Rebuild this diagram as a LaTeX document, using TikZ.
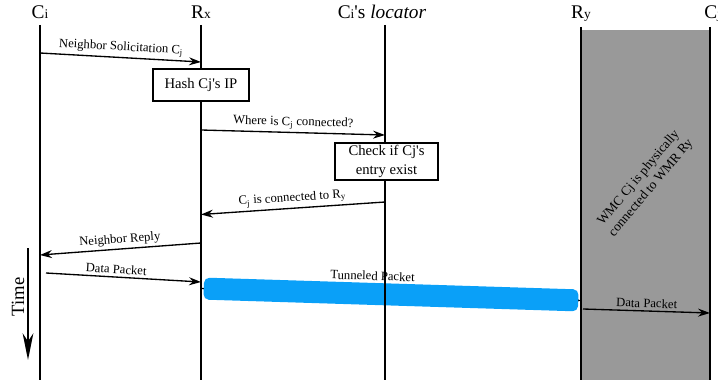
\documentclass[tikz,border=0pt]{standalone}
\usepackage{fontspec}
\setmainfont{Liberation Serif}
\usetikzlibrary{positioning,arrows,arrows.meta}
\newcommand{\hsub}[1]{{\fontsize{10}{10}\selectfont #1}}
\newcommand{\apos}{\textquotesingle}
\definecolor{tunnelblue}{RGB}{10,160,248}
\definecolor{wmcgray}{RGB}{153,153,153}
\tikzset{
	head/.style={font=\fontsize{14.5}{16}\selectfont, inner sep=0pt, anchor=base},
	msg/.style={font=\fontsize{9.5}{11}\selectfont, above, sloped, inner sep=2pt},
	msgarrow/.style={line width=1pt, -{Stealth[length=9pt,width=6pt,inset=3pt]}},
	procbox/.style={draw, line width=1.5pt, fill=white, inner sep=0pt,
		font=\fontsize{11}{14}\selectfont, align=center},
	life/.style={line width=0.8pt},
	tunnelbar/.style={fill=tunnelblue, rounded corners=4pt, inner sep=0pt,
		minimum width=281pt, minimum height=16.5pt},
}

\begin{document}
\begin{tikzpicture}[x=0.75pt,y=-0.75pt]
			\useasboundingbox (0,0) rectangle (718,385);
			\fill[wmcgray] (581,30) rectangle (710,380);
			% tunnel under the lifelines
			\coordinate (tun-s) at (201,288.5); \coordinate (tun-e) at (581,300.5);
			\draw[msgarrow] (tun-s) -- (tun-e);
			\path (tun-s) -- node [sloped, tunnelbar] (tunnel) {} node [msg, pos=0.45, above=8pt] {Tunneled Packet} (tun-e);
			% lifelines
			\node[head] (ci) at (40,18.5) {C\hsub{i}};
			\node[head] (rx) at (201,18.5) {R\hsub{x}};
			\node[head] (loc) at (382,18.5) {C\hsub{i}\apos s \textit{locator}};
			\node[head] (ry) at (581,18.5) {R\hsub{y}};
			\node[head, anchor=base west] (cj) at (704,18.5) {C\hsub{j}};
			\coordinate (ci-top) at (40,25);   \coordinate (ci-bot) at (40,380);
			\coordinate (rx-top) at (201,25);  \coordinate (rx-bot) at (201,380);
			\coordinate (loc-top) at (385,25); \coordinate (loc-bot) at (385,380);
			\coordinate (ry-top) at (581,27);  \coordinate (ry-bot) at (581,380);
			\coordinate (cj-top) at (710,27);  \coordinate (cj-bot) at (710,380);
			\foreach \l in {ci,rx,loc,ry,cj}
				\draw[life] (\l-top) -- (\l-bot);
			% boxes
			\node[procbox, minimum width=72pt, minimum height=24pt] (hash) at (201,85) {Hash Cj\apos s IP};
			\node[procbox, minimum width=77pt, minimum height=28pt] (check) at (386.5,161.5) {Check if Cj\apos s\\entry exist};
			% messages
			\coordinate (m1s) at (40,53);   \coordinate (m1e) at (201,62);
			\coordinate (m2s) at (201,130); \coordinate (m2e) at (385,135);
			\coordinate (m3s) at (385,202); \coordinate (m3e) at (201,214.5);
			\coordinate (m4s) at (201,243); \coordinate (m4e) at (40,255);
			\coordinate (m5s) at (46,273);  \coordinate (m5e) at (201,282);
			\coordinate (m6s) at (583,309); \coordinate (m6e) at (710,313);
			\path[msgarrow]
			(m1s) edge node [msg] {Neighbor Solicitation C\textsubscript{j}} (m1e)
			(m2s) edge node [msg] {Where is C\textsubscript{j} connected?} (m2e)
			(m3s) edge node [msg] {C\textsubscript{j} is connected to R\textsubscript{y}} (m3e)
			(m4s) edge node [msg] {Neighbor Reply} (m4e)
			(m5s) edge node [msg, pos=0.45] {Data Packet} (m5e)
			(m6s) edge node [msg] {Data Packet} (m6e);
			% time axis
			\coordinate (time-s) at (28,248); \coordinate (time-e) at (28,360);
			\draw[line width=1.5pt, -{Stealth[length=20pt,width=8pt,inset=6pt]}] (time-s) -- (time-e);
			\node[rotate=90, font=\fontsize{14}{16}\selectfont] (time) at (18,297) {Time};
			\node[rotate=50, align=center, font=\fontsize{10}{12}\selectfont] (wmc) at (645,183) {WMC Cj is physically\\connected to WMR Ry};
		\end{tikzpicture}
\end{document}
